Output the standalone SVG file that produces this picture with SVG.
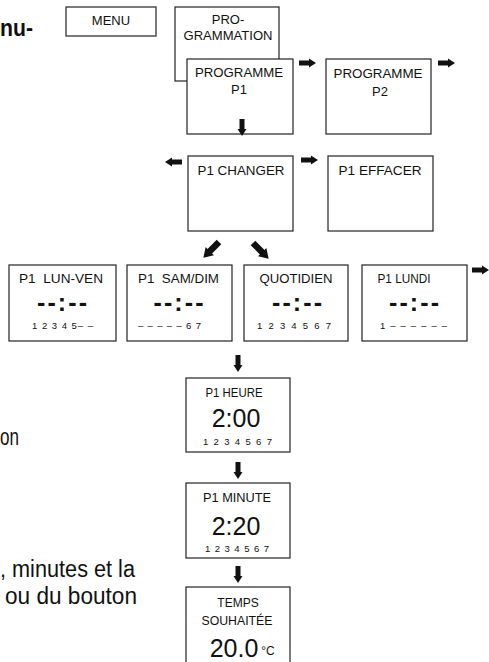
<svg xmlns="http://www.w3.org/2000/svg" width="489" height="662" viewBox="0 0 489 662">
<style>
.box{fill:#fff;stroke:#222;stroke-width:1.2}
.t{font-family:"Liberation Sans",Arial,sans-serif;font-size:13px;fill:#111;text-anchor:middle}
.s{font-family:"Liberation Sans",Arial,sans-serif;font-size:12px;fill:#111;text-anchor:middle}
.d{font-family:"Liberation Sans",Arial,sans-serif;font-size:25px;font-weight:bold;fill:#111;text-anchor:middle}
.n{font-family:"Liberation Sans",Arial,sans-serif;font-size:9.5px;fill:#111}
.big{font-family:"Liberation Sans",Arial,sans-serif;font-size:25px;fill:#111;text-anchor:middle}
.body{font-family:"Liberation Sans",Arial,sans-serif;font-size:23px;fill:#111}
.arr{fill:#111}
</style>
<defs>
<path id="ar" d="M0,-2.5 H10 V-4.5 L17,0 L10,4.5 V2.5 H0 Z"/>
</defs>

<g id="side-text">
<text class="body" x="0" y="36" font-weight="bold" font-size="30" textLength="33" lengthAdjust="spacingAndGlyphs">nu-</text>
<text class="body" x="0" y="445" textLength="19" lengthAdjust="spacingAndGlyphs">on</text>
<text class="body" x="0" y="577" textLength="135" lengthAdjust="spacingAndGlyphs">, minutes et la</text>
<text class="body" x="5" y="604" textLength="132" lengthAdjust="spacingAndGlyphs">ou du bouton</text>
</g>

<g id="menu">
<rect class="box" x="66" y="7" width="90" height="29"/>
<text class="t" x="111" y="25">MENU</text>
</g>

<g id="programmation">
<rect class="box" x="175" y="7" width="104" height="74"/>
<text class="t" x="228" y="24">PRO-</text>
<text class="t" x="228" y="40" textLength="89" lengthAdjust="spacingAndGlyphs">GRAMMATION</text>
</g>

<g id="programme-p1">
<rect class="box" x="187" y="59" width="106" height="75"/>
<text class="t" x="239" y="77" textLength="88" lengthAdjust="spacingAndGlyphs">PROGRAMME</text>
<text class="t" x="239" y="94">P1</text>
</g>

<g id="programme-p2">
<rect class="box" x="326" y="59" width="105" height="75"/>
<text class="t" x="378" y="78" textLength="89" lengthAdjust="spacingAndGlyphs">PROGRAMME</text>
<text class="t" x="380" y="96">P2</text>
</g>

<g id="p1-changer">
<rect class="box" x="188" y="156" width="105" height="75"/>
<text class="t" x="241" y="175" textLength="87" lengthAdjust="spacingAndGlyphs">P1 CHANGER</text>
</g>

<g id="p1-effacer">
<rect class="box" x="328" y="156" width="105" height="75"/>
<text class="t" x="380" y="175" textLength="83" lengthAdjust="spacingAndGlyphs">P1 EFFACER</text>
</g>

<g id="lun-ven">
<rect class="box" x="9" y="265" width="107" height="76"/>
<text class="s" x="61" y="283" textLength="84" lengthAdjust="spacingAndGlyphs" xml:space="preserve">P1  LUN-VEN</text>
<text class="d" x="62" y="311" textLength="50">--:--</text>
<text class="n" x="32" y="329" textLength="61">1 2 3 4 5– –</text>
</g>

<g id="sam-dim">
<rect class="box" x="127" y="265" width="105" height="76"/>
<text class="s" x="178.5" y="283" textLength="81" lengthAdjust="spacingAndGlyphs" xml:space="preserve">P1  SAM/DIM</text>
<text class="d" x="178.5" y="311" textLength="50">--:--</text>
<text class="n" x="138" y="329" textLength="63">– – – – – 6 7</text>
</g>

<g id="quotidien">
<rect class="box" x="244" y="265" width="104" height="76"/>
<text class="s" x="296" y="283" textLength="73" lengthAdjust="spacingAndGlyphs">QUOTIDIEN</text>
<text class="d" x="297" y="311" textLength="50">--:--</text>
<text class="n" x="257" y="329" textLength="74">1 2 3 4 5 6 7</text>
</g>

<g id="lundi">
<rect class="box" x="362" y="265" width="105" height="76"/>
<text class="s" x="404" y="283" textLength="53" lengthAdjust="spacingAndGlyphs">P1 LUNDI</text>
<text class="d" x="414" y="311" textLength="50">--:--</text>
<text class="n" x="380" y="329" textLength="67">1 – – – – – –</text>
</g>

<g id="heure">
<rect class="box" x="186" y="378" width="104" height="74"/>
<text class="s" x="234" y="397" textLength="57" lengthAdjust="spacingAndGlyphs">P1 HEURE</text>
<text class="big" x="236" y="427">2:00</text>
<text class="n" x="203" y="445" textLength="69">1 2 3 4 5 6 7</text>
</g>

<g id="minute">
<rect class="box" x="186" y="483" width="104" height="75"/>
<text class="s" x="237" y="502" textLength="68" lengthAdjust="spacingAndGlyphs">P1 MINUTE</text>
<text class="big" x="236" y="535">2:20</text>
<text class="n" x="205" y="552" textLength="64">1 2 3 4 5 6 7</text>
</g>

<g id="temps">
<rect class="box" x="186" y="587" width="104" height="90"/>
<text class="s" x="238" y="607">TEMPS</text>
<text class="s" x="237" y="625" textLength="71" lengthAdjust="spacingAndGlyphs">SOUHAITÉE</text>
<text class="big" x="234" y="657">20.0</text>
<text class="s" x="268" y="655" font-size="12">°C</text>
</g>

<g id="connectors" class="arr">
<use href="#ar" transform="translate(299,63)"/>
<use href="#ar" transform="translate(438,63)"/>
<use href="#ar" transform="translate(242,119) rotate(90)"/>
<use href="#ar" transform="translate(182,162) rotate(180)"/>
<use href="#ar" transform="translate(301,160)"/>
<use href="#ar" transform="translate(219,242) rotate(135) scale(1.3)"/>
<use href="#ar" transform="translate(253,243) rotate(45) scale(1.3)"/>
<use href="#ar" transform="translate(472,270)"/>
<use href="#ar" transform="translate(238,355) rotate(90)"/>
<use href="#ar" transform="translate(238,462) rotate(90)"/>
<use href="#ar" transform="translate(238,566) rotate(90)"/>
</g>
</svg>
